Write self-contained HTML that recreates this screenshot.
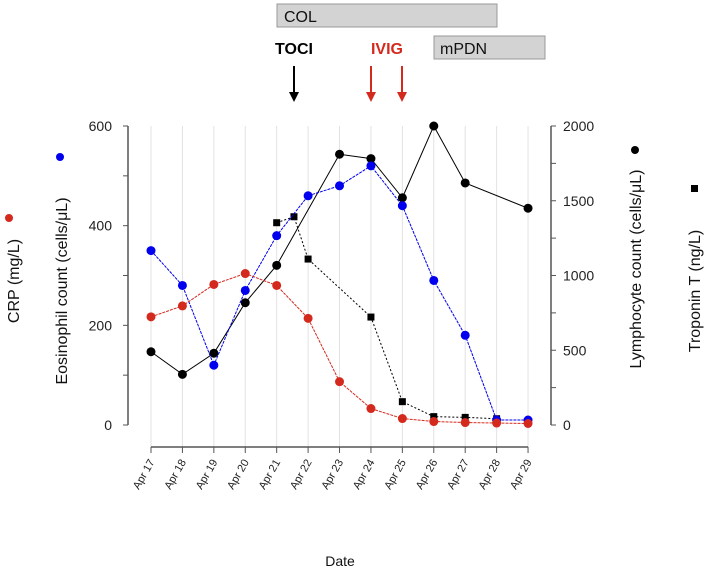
<!DOCTYPE html>
<html><head><meta charset="utf-8"><style>
body{margin:0;background:#fff;}
svg{display:block;font-family:"Liberation Sans",sans-serif;}
</style></head><body>
<svg id="chart" width="708" height="568" viewBox="0 0 708 568">
<g id="annot">
  <rect x="277" y="4" width="220" height="23" fill="#d3d3d3" stroke="#999"/>
  <text x="284" y="22" font-size="16" fill="#111">COL</text>
  <rect x="434" y="36" width="111" height="23" fill="#d3d3d3" stroke="#999"/>
  <text x="440" y="54" font-size="16" fill="#111">mPDN</text>
  <text x="294" y="54" font-size="16" font-weight="bold" text-anchor="middle" fill="#000">TOCI</text>
  <text x="387" y="54" font-size="16" font-weight="bold" text-anchor="middle" fill="#d42a1e">IVIG</text>
  <g><line x1="294" y1="66" x2="294" y2="94" stroke="#000" stroke-width="2"/><polygon points="289,92 299,92 294,102" fill="#000"/></g>
  <g><line x1="371" y1="66" x2="371" y2="94" stroke="#d42a1e" stroke-width="2"/><polygon points="366,92 376,92 371,102" fill="#d42a1e"/></g>
  <g><line x1="402" y1="66" x2="402" y2="94" stroke="#d42a1e" stroke-width="2"/><polygon points="397,92 407,92 402,102" fill="#d42a1e"/></g>
</g>
<g id="grid"></g><g id="axes"></g><g id="series"></g>
<g>
  <text transform="translate(19,281) rotate(-90)" font-size="16" text-anchor="middle" fill="#111">CRP (mg/L)</text>
  <circle cx="9" cy="218" r="4" fill="#d42a1e"/>
  <text transform="translate(67,291) rotate(-90)" font-size="16" text-anchor="middle" fill="#111">Eosinophil count (cells/μL)</text>
  <circle cx="60" cy="157" r="4" fill="#0000ee"/>
  <text transform="translate(641,269) rotate(-90)" font-size="16" text-anchor="middle" fill="#111">Lymphocyte count (cells/μL)</text>
  <circle cx="635" cy="150" r="4" fill="#000"/>
  <text transform="translate(700,291) rotate(-90)" font-size="16" text-anchor="middle" fill="#111">Troponin T (ng/L)</text>
  <rect x="691" y="185" width="7" height="7" fill="#000"/>
  <text x="340" y="566" font-size="14" text-anchor="middle" fill="#111">Date</text>
</g>
</svg>
<script>
const categories=["Apr 17","Apr 18","Apr 19","Apr 20","Apr 21","Apr 22","Apr 23","Apr 24","Apr 25","Apr 26","Apr 27","Apr 28","Apr 29"];
const crpValues=[217,239,282,304,280,214,87,33,13,7,5,4,3];
const eosValues=[350,280,120,270,380,460,480,520,440,290,180,10,10];
const lymphDays=[0,1,2,3,4,6,7,8,9,10,12];
const lymphValues=[490,339,480,818,1068,1811,1782,1520,2000,1619,1450];
const tropDays=[4,4.55,5,7,8,9,10,11];
const tropValues=[1353,1393,1110,722,156,56,51,42];
const leftTicks=[0,200,400,600];
const rightTicks=[0,500,1000,1500,2000];
const NS="http://www.w3.org/2000/svg";
const X0=151,XS=31.42,Y0=425,YT=126;
const xs=i=>X0+i*XS;
const yL=v=>Y0-(v/600)*(Y0-YT);
const yR=v=>Y0-(v/2000)*(Y0-YT);
function mk(parent,tag,attrs){const e=document.createElementNS(NS,tag);for(const k in attrs)e.setAttribute(k,attrs[k]);document.getElementById(parent).appendChild(e);return e;}
categories.forEach((c,i)=>{
  const g=mk('grid','line',{x1:xs(i),x2:xs(i),y1:YT,y2:447,stroke:'#e2e2e2'});
  
  
  const t=mk('axes','line',{x1:xs(i),x2:xs(i),y1:447,y2:453,stroke:'#555'});
  
  
  const l=mk('axes','text',{transform:`translate(${xs(i)+4},462) rotate(-60)`,'font-size':11,'text-anchor':'end',fill:'#222'});
  l.textContent=c;
  
  
});
let a=mk('axes','line',{x1:xs(0),x2:xs(12),y1:447,y2:447,stroke:'#555','stroke-width':1.5});


a=mk('axes','line',{x1:128,x2:128,y1:YT,y2:Y0,stroke:'#555','stroke-width':1.5});


a=mk('axes','line',{x1:551,x2:551,y1:YT,y2:Y0,stroke:'#555','stroke-width':1.5});


for(let v=0;v<=600;v+=100){const t=mk('axes','line',{x1:123,x2:128,y1:yL(v),y2:yL(v),stroke:'#555'});}
for(let v=0;v<=2000;v+=250){const t=mk('axes','line',{x1:551,x2:556,y1:yR(v),y2:yR(v),stroke:'#555'});}
leftTicks.forEach(v=>{const t=mk('axes','text',{x:112,y:yL(v)+5,'font-size':14,'text-anchor':'end',fill:'#222'});t.textContent=v;});
rightTicks.forEach(v=>{const t=mk('axes','text',{x:563,y:yR(v)+5,'font-size':14,fill:'#222'});t.textContent=v;});
function series(name,days,vals,yf,color,dash,shape){
  const pts=days.map((d,i)=>[xs(d),yf(vals[i])]);
  const p=mk('series','polyline',{points:pts.map(p=>p.join(',')).join(' '),fill:'none',stroke:color,'stroke-width':1,'stroke-dasharray':dash});
  
  
  pts.forEach(q=>{
    let m;
    if(shape==='sq')m=mk('series','rect',{x:q[0]-3.5,y:q[1]-3.5,width:7,height:7,fill:color});
    else m=mk('series','circle',{cx:q[0],cy:q[1],r:4.5,fill:color});
    
    
  });
}
const idx=categories.map((c,i)=>i);
series('troponin',tropDays,tropValues,yR,'#000','2,2','sq');
series('lymphocyte',lymphDays,lymphValues,yR,'#000','none','c');
series('eosinophil',idx,eosValues,yL,'#0000ee','3,1','c');
series('crp',idx,crpValues,yL,'#d42a1e','3,1','c');
</script>
</body></html>
